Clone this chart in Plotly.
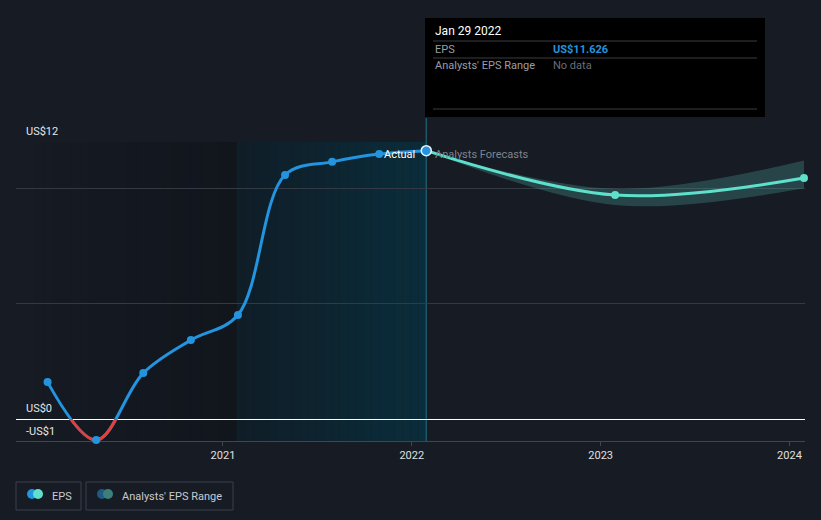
import plotly.graph_objects as go
import pandas as pd

# ---- data ----
actual_dates = ["2020-01-28", "2020-05-01", "2020-07-31", "2020-10-31", "2021-01-30",
                "2021-05-01", "2021-07-31", "2021-10-30", "2022-01-29"]
actual_eps = [1.60, -0.91, 1.99, 3.42, 4.51, 10.57, 11.14, 11.48, 11.626]

fc_dates = ["2022-01-29", "2023-01-29", "2024-01-29"]
fc_eps = [11.626, 9.70, 10.44]
fc_low = [11.626, 9.27, 10.00]
fc_high = [11.626, 9.97, 11.20]

x_ticks = ["2021-01-01", "2022-01-01", "2023-01-01", "2024-01-01"]
x_tick_labels = ["2021", "2022", "2023", "2024"]
y_labels = {12: "US$12", 0: "US$0", -1: "-US$1"}

X_RANGE = ["2019-11-28", "2024-01-31"]
Y_MIN, Y_MAX = -0.95, 12
BG = "#161b24"
BLUE = "#2394df"
TEAL = "#5ee0cc"
RED = "#e0413f"
FONT = "Roboto"

W, H = 821, 520
L, R, T, B = 16, 16, 142, 79
pw, ph = W - L - R, H - T - B


def px(x):
    return (x - L) / pw


def py(y):
    return (H - B - y) / ph


def mix(c0, c1, t):
    a = [int(c0[i:i + 2], 16) for i in (1, 3, 5)]
    b = [int(c1[i:i + 2], 16) for i in (1, 3, 5)]
    return "rgb(%d,%d,%d)" % tuple(round(a[k] + (b[k] - a[k]) * t) for k in range(3))


fig = go.Figure()

# forecast range band
fig.add_trace(go.Scatter(x=fc_dates, y=fc_low, mode="lines", line=dict(width=0, shape="spline"),
                         hoverinfo="skip", showlegend=False))
fig.add_trace(go.Scatter(x=fc_dates, y=fc_high, mode="lines", line=dict(width=0, shape="spline"),
                         fill="tonexty", fillcolor="rgba(80,170,160,0.30)",
                         hoverinfo="skip", showlegend=False))

# forecast line
fig.add_trace(go.Scatter(x=fc_dates, y=fc_eps, mode="lines+markers",
                         line=dict(color=TEAL, width=3, shape="spline"),
                         marker=dict(color=TEAL, size=8), cliponaxis=False, showlegend=False))

# actual line (blue)
fig.add_trace(go.Scatter(x=actual_dates, y=actual_eps, mode="lines",
                         line=dict(color=BLUE, width=3, shape="spline"), showlegend=False))
# red part below zero: same data on an axis clipped to the negative region
fig.add_trace(go.Scatter(x=actual_dates, y=actual_eps, mode="lines", yaxis="y2",
                         line=dict(color=RED, width=3, shape="spline"), showlegend=False))
# markers on a third (full-height) axis so they are drawn above the red segment
fig.add_trace(go.Scatter(x=actual_dates[:-1], y=actual_eps[:-1], mode="markers", yaxis="y3",
                         marker=dict(color=BLUE, size=8), cliponaxis=False, showlegend=False))
fig.add_trace(go.Scatter(x=actual_dates[-1:], y=actual_eps[-1:], mode="markers", yaxis="y3",
                         marker=dict(color=BLUE, size=10, line=dict(color="#e8f4ff", width=1.5)),
                         cliponaxis=False, showlegend=False))

shapes = []
# gradient background bands (decorative stripes)
N = 24
for (s, e, c0, c1) in [(X_RANGE[0], actual_dates[4], "#161b24", "#11151c"),
                       (actual_dates[4], actual_dates[-1], "#0f1d27", "#0a2d3b")]:
    ts, te = pd.Timestamp(s), pd.Timestamp(e)
    for i in range(N):
        a = ts + (te - ts) * i / N
        b = ts + (te - ts) * (i + 1) / N
        shapes.append(dict(type="rect", xref="x", yref="paper", x0=a, x1=b, y0=0, y1=1,
                           fillcolor=mix(c0, c1, (i + 0.5) / N), line=dict(width=0), layer="below"))

shapes += [
    # faint left edge of the actual region
    dict(type="line", xref="x", yref="paper", x0=actual_dates[4], x1=actual_dates[4], y0=0, y1=1,
         line=dict(color="#122a36", width=1), layer="below"),
    # vertical marker line
    dict(type="line", xref="x", yref="paper", x0=actual_dates[-1], x1=actual_dates[-1],
         y0=0, y1=py(118), line=dict(color="#1f5868", width=1.5), layer="below"),
    # tooltip box
    dict(type="rect", xref="paper", yref="paper", x0=px(425), x1=px(765), y0=py(117), y1=py(18),
         fillcolor="#000000", line=dict(width=0)),
    dict(type="line", xref="paper", yref="paper", x0=px(433), x1=px(757), y0=py(41), y1=py(41),
         line=dict(color="#3a3d42", width=1)),
    dict(type="line", xref="paper", yref="paper", x0=px(433), x1=px(757), y0=py(58), y1=py(58),
         line=dict(color="#3a3d42", width=1)),
    dict(type="line", xref="paper", yref="paper", x0=px(433), x1=px(757), y0=py(109), y1=py(109),
         line=dict(color="#3a3d42", width=1)),
    # legend boxes
    dict(type="rect", xref="paper", yref="paper", x0=px(16), x1=px(81), y0=py(510), y1=py(482),
         fillcolor="rgba(0,0,0,0)", line=dict(color="#3b414b", width=1)),
    dict(type="rect", xref="paper", yref="paper", x0=px(86), x1=px(233), y0=py(510), y1=py(482),
         fillcolor="rgba(0,0,0,0)", line=dict(color="#3b414b", width=1)),
]

# legend icons
for cx, col in [(32, BLUE), (38, TEAL), (102, "#1f5a85"), (108, "#3d807a")]:
    shapes.append(dict(type="circle", xref="paper", yref="paper", xsizemode="pixel", ysizemode="pixel",
                       xanchor=px(cx), yanchor=py(494), x0=-5, x1=5, y0=-5, y1=5,
                       fillcolor=col, line=dict(width=0)))

annotations = []
for v, lab in y_labels.items():
    annotations.append(dict(x=px(24), y=max(v, Y_MIN), xref="paper", yref="y", text=lab,
                            showarrow=False, xanchor="left", yanchor="bottom",
                            yshift=2 if v >= 0 else 1,
                            font=dict(family=FONT, size=11, color="#e6e6e6")))
annotations += [
    dict(x=actual_dates[-1], y=actual_eps[-1], xref="x", yref="y", text="Actual", showarrow=False,
         xanchor="right", yanchor="middle", xshift=-9, yshift=-4,
         font=dict(family=FONT, size=11, color="#ffffff")),
    dict(x=actual_dates[-1], y=actual_eps[-1], xref="x", yref="y", text="Analysts Forecasts",
         showarrow=False, xanchor="left", yanchor="middle", xshift=7, yshift=-4,
         font=dict(family=FONT, size=11, color="#7f848c")),
    dict(x=px(433), y=py(31), xref="paper", yref="paper", text="Jan 29 2022", showarrow=False,
         xanchor="left", yanchor="middle", font=dict(family=FONT, size=12, color="#ffffff")),
    dict(x=px(433), y=py(49), xref="paper", yref="paper", text="EPS", showarrow=False,
         xanchor="left", yanchor="middle", font=dict(family=FONT, size=11, color="#9a9ea5")),
    dict(x=px(551), y=py(49), xref="paper", yref="paper", text="<b>US$11.626</b>", showarrow=False,
         xanchor="left", yanchor="middle", font=dict(family=FONT, size=11, color=BLUE)),
    dict(x=px(433), y=py(66), xref="paper", yref="paper", text="Analysts' EPS Range", showarrow=False,
         xanchor="left", yanchor="middle", font=dict(family=FONT, size=11, color="#9a9ea5")),
    dict(x=px(551), y=py(66), xref="paper", yref="paper", text="No data", showarrow=False,
         xanchor="left", yanchor="middle", font=dict(family=FONT, size=11, color="#6a6e75")),
    dict(x=px(50), y=py(496), xref="paper", yref="paper", text="EPS", showarrow=False,
         xanchor="left", yanchor="middle", font=dict(family=FONT, size=11, color="#c8cbd0")),
    dict(x=px(120), y=py(496), xref="paper", yref="paper", text="Analysts' EPS Range", showarrow=False,
         xanchor="left", yanchor="middle", font=dict(family=FONT, size=11, color="#c8cbd0")),
]

fig.update_layout(
    width=W, height=H,
    margin=dict(l=L, r=R, t=T, b=B),
    paper_bgcolor=BG, plot_bgcolor="rgba(0,0,0,0)",
    font=dict(family=FONT),
    showlegend=False,
    shapes=shapes,
    annotations=annotations,
    xaxis=dict(range=X_RANGE, type="date", tickvals=x_ticks, ticktext=x_tick_labels,
               showgrid=False, zeroline=False, showline=True, linecolor="#40454e", linewidth=1,
               ticks="outside", ticklen=4, tickcolor="#40454e",
               tickfont=dict(family=FONT, size=11, color="#e0e0e0"), anchor="y"),
    yaxis=dict(range=[Y_MIN, Y_MAX], tickvals=[5, 10, 12], showticklabels=False,
               showgrid=True, gridcolor="#343a44", gridwidth=1,
               zeroline=True, zerolinecolor="#ffffff", zerolinewidth=1, domain=[0, 1]),
    yaxis2=dict(range=[Y_MIN, 0], domain=[0, -Y_MIN / (Y_MAX - Y_MIN)], anchor="x", visible=False,
                showgrid=False, zeroline=False),
    yaxis3=dict(range=[Y_MIN, Y_MAX], domain=[0, 1], anchor="x", visible=False,
                showgrid=False, zeroline=False),
)

fig.write_html("out.html")
